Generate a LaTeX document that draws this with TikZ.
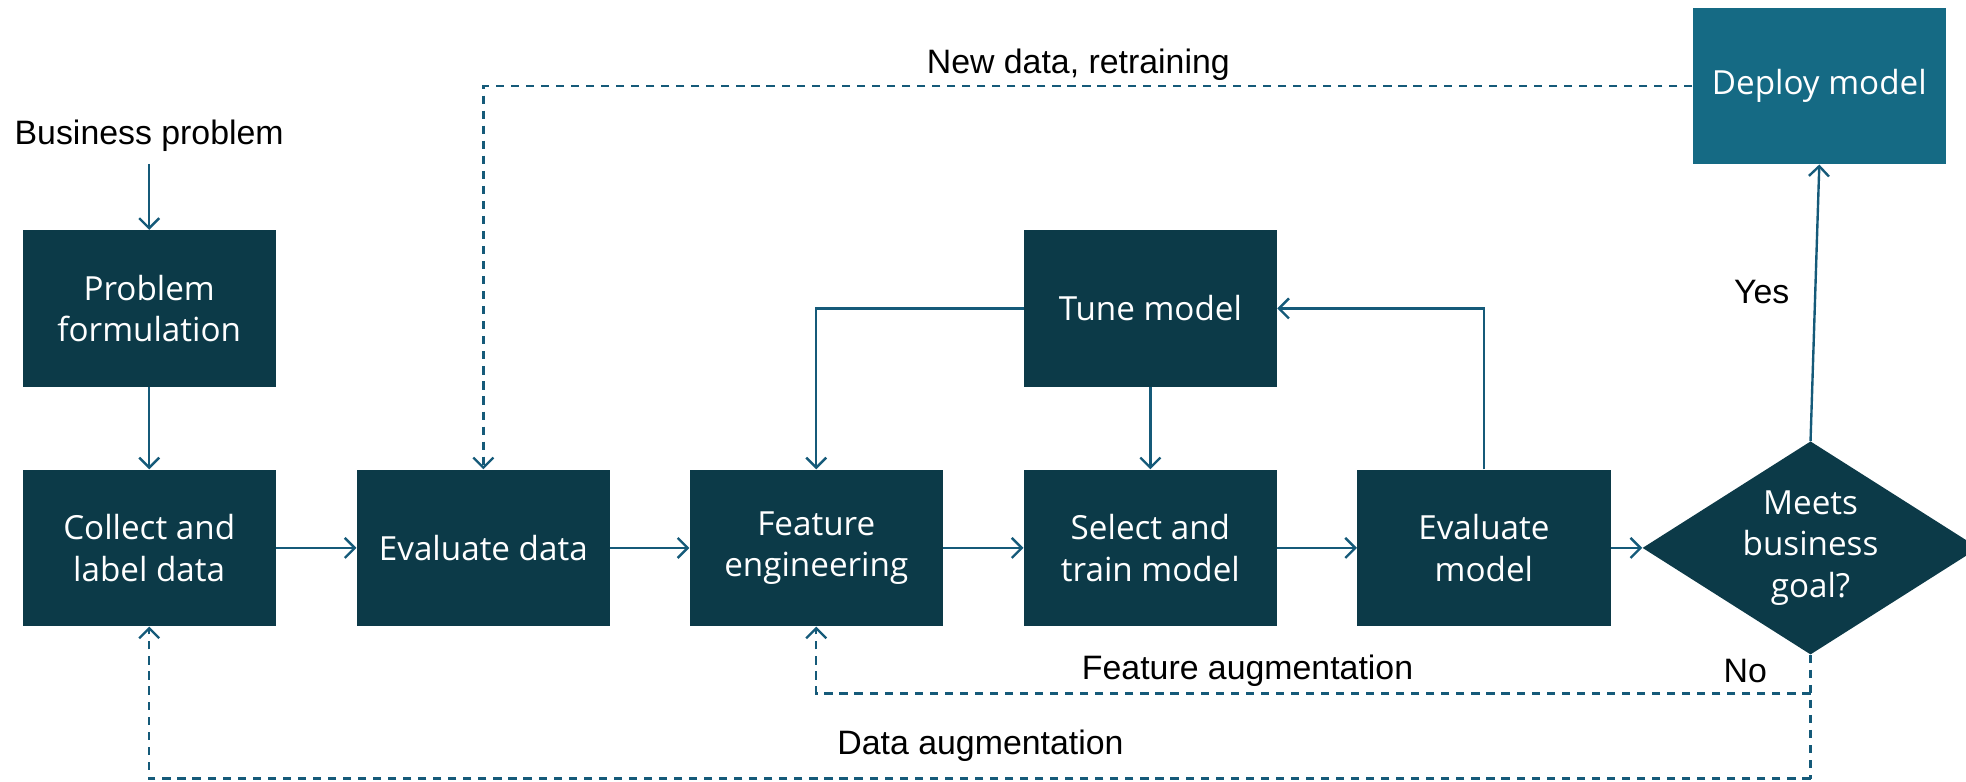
\documentclass[tikz,border=0pt]{standalone}
\usepackage{fontspec}
\setmainfont{Liberation Sans}
\newfontfamily\boxfont{Open Sans}
\usetikzlibrary{arrows.meta,shapes.geometric}
\definecolor{boxc}{HTML}{0C3A48}
\definecolor{deployc}{HTML}{156A84}
\definecolor{linec}{HTML}{155A79}
\begin{document}
\begin{tikzpicture}[x=1pt,y=-1pt,
  box/.style={fill=boxc, text=white, minimum width=202pt, minimum height=125pt, inner sep=0pt, align=center, font=\boxfont\fontsize{26.5}{33}\selectfont},
  deploybox/.style={box, fill=deployc},
  decision/.style={diamond, fill=boxc, text=white, aspect=1.58, inner sep=0pt, minimum width=268pt, minimum height=170pt, align=center, font=\boxfont\fontsize{26.5}{33}\selectfont},
  lbl/.style={font=\fontsize{27}{30}\selectfont, text=black, inner sep=0pt},
  arr/.style={draw=linec, line width=1.9pt, -{Straight Barb[length=8pt, width=16pt, line width=1.9pt]}},
  darr/.style={arr, dash pattern=on 6.5pt off 5.5pt},
  dline/.style={draw=linec, line width=1.9pt, dash pattern=on 6.5pt off 5.5pt}]
\useasboundingbox (0,0) rectangle (1568,623);
\clip (0,0) rectangle (1568,623);

\node[lbl] (bp) at (119,108) {Business problem};
\node[box] (pf) at (119,246) {Problem\\formulation};
\node[box] (cl) at (119,437) {Collect and\\label data};
\node[box] (ed) at (385.5,437) {Evaluate data};
\node[box] (fe) at (651,437) {Feature\\engineering};
\node[box] (sm) at (917.5,437) {Select and\\train model};
\node[box] (em) at (1183.5,437) {Evaluate\\model};
\node[box] (tm) at (917.5,246) {Tune model};
\node[decision] (dm) at (1444,437) {Meets\\business\\goal?};
\node[deploybox] (dp) at (1451,68.5) {Deploy model};

\coordinate (c1) at (1444,553);
\coordinate (c2) at (1444,621);

\draw[arr] (bp.south) ++(0,10) coordinate (bps) (bps) -- (pf);
\draw[arr] (pf) -- (cl);
\draw[arr] (cl) -- (ed);
\draw[arr] (ed) -- (fe);
\draw[arr] (fe) -- (sm);
\draw[arr] (sm) -- (em);
\draw[arr] (em) -- (dm);
\draw[arr] (tm.west) -| (fe.north);
\draw[arr] (tm) -- (sm);
\draw[arr] (em.north) |- (tm.east);
\draw[arr] (dm.north) -- (dp.south);

\draw[darr] (dp.west) -| (ed.north);
\draw[dline] (dm.south) -- (c2);
\draw[darr] (c1) -| (fe.south);
\draw[darr] (c2) -| (cl.south);

\node[lbl] (yes) at (1405,233) {Yes};
\node[lbl] (no) at (1392,535) {No};
\node[lbl] (nd) at (860,52) {New data, retraining};
\node[lbl] (fa) at (995,535) {Feature augmentation};
\node[lbl] (da) at (782,595) {Data augmentation};
\end{tikzpicture}
\end{document}
